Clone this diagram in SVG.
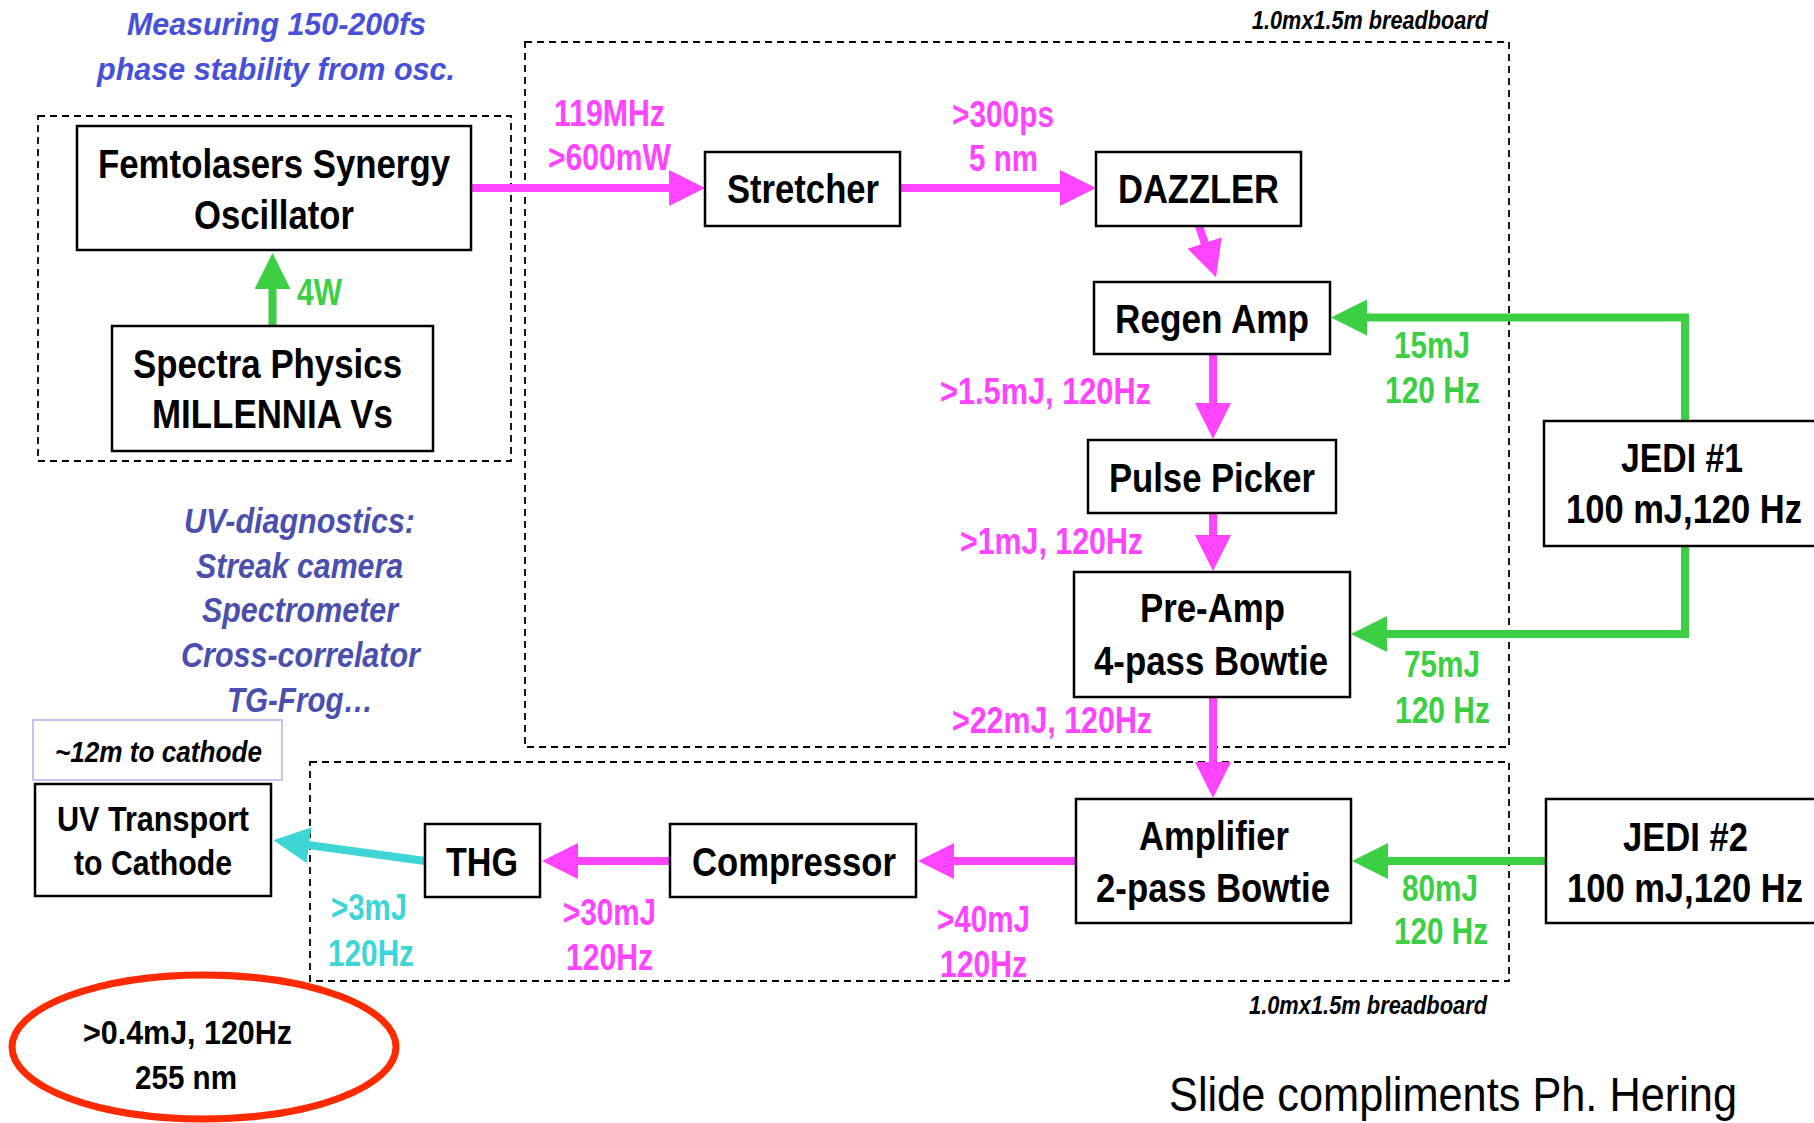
<svg xmlns="http://www.w3.org/2000/svg" width="1814" height="1123" viewBox="0 0 1814 1123">
<defs>
<style>
text{font-family:"Liberation Sans",Arial,sans-serif;font-weight:bold}
.box{fill:#fff;stroke:#000;stroke-width:2.5}
.dash{fill:none;stroke:#000;stroke-width:1.8;stroke-dasharray:7,5}
.n{font-size:41px;fill:#000}
.m{font-size:37px;fill:#ff44ff}
.g{font-size:37px;fill:#3ccf44}
.c{font-size:37px;fill:#3dd5d5}
.b1{font-size:32px;fill:#4650d8;font-style:italic}
.b2{font-size:35px;fill:#4a4fae;font-style:italic}
.it{font-size:25px;fill:#000;font-style:italic}
.lm{stroke:#ff44ff;stroke-width:8;fill:none}
.lg{stroke:#3ccf44;stroke-width:8;fill:none}
.lc{stroke:#3dd5d5;stroke-width:8;fill:none}
</style>
<marker id="hm" markerUnits="userSpaceOnUse" markerWidth="36" markerHeight="36" viewBox="0 0 36 36" refX="1" refY="18" orient="auto"><path d="M0,0 L36,18 L0,36 z" fill="#ff44ff"/></marker>
<marker id="hg" markerUnits="userSpaceOnUse" markerWidth="36" markerHeight="36" viewBox="0 0 36 36" refX="1" refY="18" orient="auto"><path d="M0,0 L36,18 L0,36 z" fill="#3ccf44"/></marker>
<marker id="hc" markerUnits="userSpaceOnUse" markerWidth="36" markerHeight="36" viewBox="0 0 36 36" refX="1" refY="18" orient="auto"><path d="M0,0 L36,18 L0,36 z" fill="#3dd5d5"/></marker>
</defs>
<rect width="1814" height="1123" fill="#fff"/>

<g id="breadboards">
<rect class="dash" x="38" y="116" width="473" height="345"/>
<rect class="dash" x="525" y="42" width="984" height="705"/>
<rect class="dash" x="310" y="762" width="1199" height="219"/>
<text class="it" x="1252" y="29" textLength="236" lengthAdjust="spacingAndGlyphs">1.0mx1.5m breadboard</text>
<text class="it" x="1249" y="1014" textLength="238" lengthAdjust="spacingAndGlyphs">1.0mx1.5m breadboard</text>
</g>

<g id="connectors">
<line class="lm" x1="471" y1="188" x2="670" y2="188" marker-end="url(#hm)"/>
<line class="lm" x1="900" y1="188" x2="1061" y2="188" marker-end="url(#hm)"/>
<line class="lm" x1="1199" y1="226" x2="1205" y2="244" marker-end="url(#hm)"/>
<line class="lm" x1="1213" y1="354" x2="1213" y2="404" marker-end="url(#hm)"/>
<line class="lm" x1="1213" y1="513" x2="1213" y2="536" marker-end="url(#hm)"/>
<line class="lm" x1="1213" y1="697" x2="1213" y2="763" marker-end="url(#hm)"/>
<line class="lm" x1="1076" y1="861" x2="953" y2="861" marker-end="url(#hm)"/>
<line class="lm" x1="670" y1="861" x2="577" y2="861" marker-end="url(#hm)"/>
<line class="lc" x1="425" y1="861" x2="308" y2="845" marker-end="url(#hc)"/>
<line class="lg" x1="272.5" y1="326" x2="272.5" y2="288" marker-end="url(#hg)"/>
<polyline class="lg" points="1685,421 1685,317.5 1366,317.5" marker-end="url(#hg)"/>
<polyline class="lg" points="1685,546 1685,634 1386,634" marker-end="url(#hg)"/>
<line class="lg" x1="1546" y1="861" x2="1387" y2="861" marker-end="url(#hg)"/>
</g>

<g id="labels">
<text class="b1" x="127" y="35" textLength="299" lengthAdjust="spacingAndGlyphs">Measuring 150-200fs</text>
<text class="b1" x="97" y="80" textLength="358" lengthAdjust="spacingAndGlyphs">phase stability from osc.</text>
<text class="b2" x="184" y="533" textLength="231" lengthAdjust="spacingAndGlyphs">UV-diagnostics:</text>
<text class="b2" x="196" y="578" textLength="207" lengthAdjust="spacingAndGlyphs">Streak camera</text>
<text class="b2" x="202" y="622" textLength="196" lengthAdjust="spacingAndGlyphs">Spectrometer</text>
<text class="b2" x="181" y="667" textLength="239" lengthAdjust="spacingAndGlyphs">Cross-correlator</text>
<text class="b2" x="227" y="712" textLength="146" lengthAdjust="spacingAndGlyphs">TG-Frog…</text>
<text class="g" x="297" y="305" textLength="45" lengthAdjust="spacingAndGlyphs">4W</text>
<text class="m" x="554" y="126" textLength="111" lengthAdjust="spacingAndGlyphs">119MHz</text>
<text class="m" x="548" y="170" textLength="123" lengthAdjust="spacingAndGlyphs">&gt;600mW</text>
<text class="m" x="952" y="127" textLength="102" lengthAdjust="spacingAndGlyphs">&gt;300ps</text>
<text class="m" x="969" y="171" textLength="69" lengthAdjust="spacingAndGlyphs">5 nm</text>
<text class="m" x="940" y="404" textLength="211" lengthAdjust="spacingAndGlyphs">&gt;1.5mJ, 120Hz</text>
<text class="m" x="960" y="554" textLength="183" lengthAdjust="spacingAndGlyphs">&gt;1mJ, 120Hz</text>
<text class="m" x="952" y="733" textLength="200" lengthAdjust="spacingAndGlyphs">&gt;22mJ, 120Hz</text>
<text class="m" x="563" y="925" textLength="93" lengthAdjust="spacingAndGlyphs">&gt;30mJ</text>
<text class="m" x="566" y="970" textLength="87" lengthAdjust="spacingAndGlyphs">120Hz</text>
<text class="m" x="937" y="932" textLength="93" lengthAdjust="spacingAndGlyphs">&gt;40mJ</text>
<text class="m" x="940" y="977" textLength="87" lengthAdjust="spacingAndGlyphs">120Hz</text>
<text class="g" x="1394" y="358" textLength="76" lengthAdjust="spacingAndGlyphs">15mJ</text>
<text class="g" x="1385" y="403" textLength="95" lengthAdjust="spacingAndGlyphs">120 Hz</text>
<text class="g" x="1404" y="677" textLength="76" lengthAdjust="spacingAndGlyphs">75mJ</text>
<text class="g" x="1395" y="723" textLength="95" lengthAdjust="spacingAndGlyphs">120 Hz</text>
<text class="g" x="1402" y="901" textLength="76" lengthAdjust="spacingAndGlyphs">80mJ</text>
<text class="g" x="1394" y="944" textLength="94" lengthAdjust="spacingAndGlyphs">120 Hz</text>
<text class="c" x="331" y="920" textLength="76" lengthAdjust="spacingAndGlyphs">&gt;3mJ</text>
<text class="c" x="328" y="966" textLength="86" lengthAdjust="spacingAndGlyphs">120Hz</text>
<text x="1169" y="1111" style="font-weight:normal;font-size:49px" fill="#000" textLength="568" lengthAdjust="spacingAndGlyphs">Slide compliments Ph. Hering</text>
</g>

<g id="oscillator">
<rect class="box" x="77" y="126" width="394" height="124"/>
<text class="n" x="98" y="178" textLength="352" lengthAdjust="spacingAndGlyphs">Femtolasers Synergy</text>
<text class="n" x="194" y="229" textLength="160" lengthAdjust="spacingAndGlyphs">Oscillator</text>
</g>
<g id="millennia">
<rect class="box" x="112" y="326" width="321" height="125"/>
<text class="n" x="133" y="378" textLength="269" lengthAdjust="spacingAndGlyphs">Spectra Physics</text>
<text class="n" x="152" y="428" textLength="241" lengthAdjust="spacingAndGlyphs">MILLENNIA Vs</text>
</g>
<g id="stretcher">
<rect class="box" x="705" y="152" width="195" height="74"/>
<text class="n" x="727" y="203" textLength="152" lengthAdjust="spacingAndGlyphs">Stretcher</text>
</g>
<g id="dazzler">
<rect class="box" x="1096" y="152" width="205" height="74"/>
<text class="n" x="1118" y="203" textLength="161" lengthAdjust="spacingAndGlyphs">DAZZLER</text>
</g>
<g id="regen">
<rect class="box" x="1094" y="282" width="236" height="72"/>
<text class="n" x="1115" y="333" textLength="194" lengthAdjust="spacingAndGlyphs">Regen Amp</text>
</g>
<g id="pulsepicker">
<rect class="box" x="1088" y="440" width="248" height="73"/>
<text class="n" x="1109" y="492" textLength="206" lengthAdjust="spacingAndGlyphs">Pulse Picker</text>
</g>
<g id="preamp">
<rect class="box" x="1074" y="572" width="276" height="125"/>
<text class="n" x="1140" y="622" textLength="145" lengthAdjust="spacingAndGlyphs">Pre-Amp</text>
<text class="n" x="1094" y="675" textLength="234" lengthAdjust="spacingAndGlyphs">4-pass Bowtie</text>
</g>
<g id="jedi1">
<rect class="box" x="1544" y="421" width="290" height="125"/>
<text class="n" x="1621" y="472" textLength="122" lengthAdjust="spacingAndGlyphs">JEDI #1</text>
<text class="n" transform="translate(1566 523) scale(0.84 1)" x="0" y="0" textLength="281" lengthAdjust="spacingAndGlyphs">100 mJ,120 Hz</text>
</g>
<g id="amplifier">
<rect class="box" x="1076" y="799" width="275" height="124"/>
<text class="n" x="1139" y="850" textLength="150" lengthAdjust="spacingAndGlyphs">Amplifier</text>
<text class="n" x="1096" y="902" textLength="234" lengthAdjust="spacingAndGlyphs">2-pass Bowtie</text>
</g>
<g id="jedi2">
<rect class="box" x="1546" y="799" width="290" height="124"/>
<text class="n" x="1623" y="851" textLength="125" lengthAdjust="spacingAndGlyphs">JEDI #2</text>
<text class="n" transform="translate(1567 902) scale(0.84 1)" x="0" y="0" textLength="281" lengthAdjust="spacingAndGlyphs">100 mJ,120 Hz</text>
</g>
<g id="compressor">
<rect class="box" x="670" y="824" width="246" height="73"/>
<text class="n" x="692" y="876" textLength="204" lengthAdjust="spacingAndGlyphs">Compressor</text>
</g>
<g id="thg">
<rect class="box" x="425" y="824" width="115" height="73"/>
<text class="n" x="446" y="876" textLength="72" lengthAdjust="spacingAndGlyphs">THG</text>
</g>
<g id="distance">
<rect x="33" y="720" width="249" height="60" fill="#fff" stroke="#c8c2f2" stroke-width="2"/>
<text x="55" y="762" style="font-size:29px;font-style:italic" fill="#000" textLength="207" lengthAdjust="spacingAndGlyphs">~12m to cathode</text>
</g>
<g id="uvtransport">
<rect class="box" x="35" y="784" width="236" height="112"/>
<text x="57" y="831" style="font-size:35px" fill="#000" textLength="192" lengthAdjust="spacingAndGlyphs">UV Transport</text>
<text x="74" y="875" style="font-size:35px" fill="#000" textLength="158" lengthAdjust="spacingAndGlyphs">to Cathode</text>
</g>
<g id="output">
<ellipse cx="204" cy="1047" rx="192" ry="72" fill="none" stroke="#ff2a00" stroke-width="7"/>
<text x="83" y="1044" style="font-size:34px" fill="#000" textLength="209" lengthAdjust="spacingAndGlyphs">&gt;0.4mJ, 120Hz</text>
<text x="135" y="1089" style="font-size:34px" fill="#000" textLength="102" lengthAdjust="spacingAndGlyphs">255 nm</text>
</g>
</svg>
